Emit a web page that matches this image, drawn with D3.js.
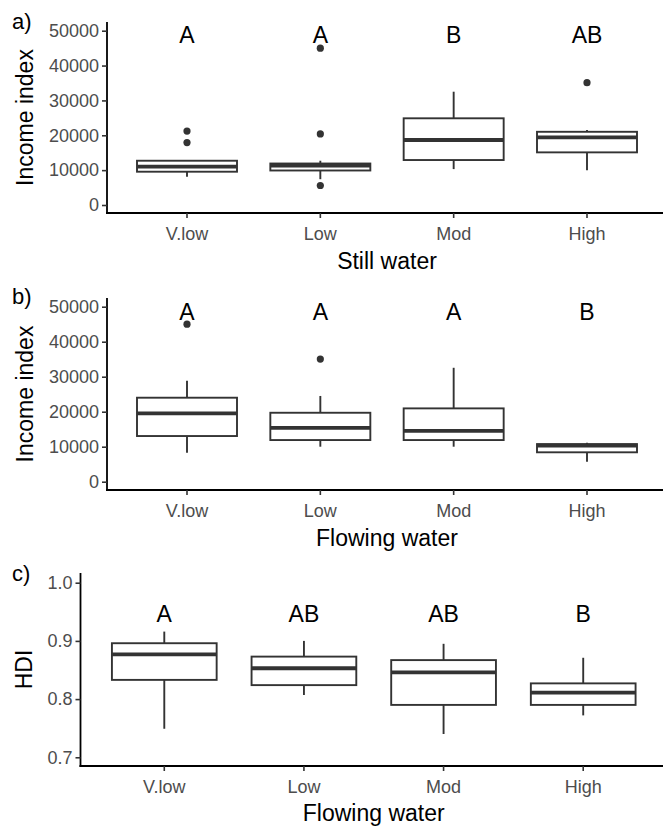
<!DOCTYPE html>
<html lang="en">
  <head>
    <meta charset="utf-8"/>
    <script src="https://d3js.org/d3.v7.min.js"></script>
    <title>Income index and HDI by water</title>
    <style>
      body { margin: 0; background: #fff; }
      text { font-family: "Liberation Sans", Arial, sans-serif; }
    </style>
  </head>
  <body>
    <svg id="svg_main"></svg>
    <script>
      const width = 663;
      const height = 826;

      const categories = ["V.low", "Low", "Mod", "High"];

      // [lower whisker, q1, median, q3, upper whisker]
      const stillIncome = [
        [8100, 9550, 11000, 12700, 12700],
        [7400, 9900, 11300, 11900, 12700],
        [10300, 12900, 18650, 24870, 32500],
        [10000, 15100, 19400, 21000, 21500]
      ];
      const stillOutliers = [[21200, 17900], [45000, 20400, 5600], [], [35100]];
      const stillLetters = ["A", "A", "B", "AB"];

      const flowIncome = [
        [8300, 13050, 19500, 24000, 28850],
        [10000, 11900, 15400, 19700, 24500],
        [10000, 11900, 14500, 20950, 32550],
        [5700, 8400, 10300, 10750, 11150]
      ];
      const flowOutliers = [[45000], [35050], [], []];
      const flowLetters = ["A", "A", "A", "B"];

      const flowHdi = [
        [0.749, 0.833, 0.877, 0.896, 0.916],
        [0.807, 0.824, 0.853, 0.873, 0.900],
        [0.740, 0.790, 0.846, 0.867, 0.895],
        [0.772, 0.790, 0.811, 0.827, 0.871]
      ];
      const hdiOutliers = [[], [], [], []];
      const hdiLetters = ["A", "AB", "AB", "B"];

      const incomeTicks = [0, 10000, 20000, 30000, 40000, 50000];
      const hdiTicks = [0.7, 0.8, 0.9, 1.0];

      let svg = d3.select("#svg_main")
          .attr("width", width)
          .attr("height", height);

      const panels = [
        {tag: "a)", stats: stillIncome, out: stillOutliers, letters: stillLetters, letterY: 46500,
         xTitle: "Still water", yTitle: "Income index", ticks: incomeTicks, fmt: d3.format("d"),
         left: 107, top: 22, bottom: 213, domain: [-2295, 52496], tagY: 29, xTitleY: 269, yTitleX: 33},
        {tag: "b)", stats: flowIncome, out: flowOutliers, letters: flowLetters, letterY: 46200,
         xTitle: "Flowing water", yTitle: "Income index", ticks: incomeTicks, fmt: d3.format("d"),
         left: 107, top: 298, bottom: 490, domain: [-2370, 52490], tagY: 304, xTitleY: 546, yTitleX: 33},
        {tag: "c)", stats: flowHdi, out: hdiOutliers, letters: hdiLetters, letterY: 0.9325,
         xTitle: "Flowing water", yTitle: "HDI", ticks: hdiTicks, fmt: d3.format(".1f"),
         left: 80.5, top: 573, bottom: 766, domain: [0.685, 1.0167], tagY: 581, xTitleY: 821, yTitleX: 32}
      ];

      panels.forEach(drawPanel);

      function drawPanel(p) {
        let g = svg.append("g");

        let xScale = d3.scaleBand()
            .domain(categories)
            .range([p.left, 667])
            .paddingInner(0.25)
            .paddingOuter(0.225);

        let yScale = d3.scaleLinear()
            .domain(p.domain)
            .range([p.bottom, p.top]);

        // boxes
        categories.forEach(function(c, i) {
          let s = p.stats[i];
          let x0 = xScale(c), bw = xScale.bandwidth(), cx = x0 + bw / 2;

          g.append("line")
              .attr("x1", cx).attr("x2", cx)
              .attr("y1", yScale(s[4])).attr("y2", yScale(s[3]))
              .attr("stroke", "#333").attr("stroke-width", 1.9);
          g.append("line")
              .attr("x1", cx).attr("x2", cx)
              .attr("y1", yScale(s[1])).attr("y2", yScale(s[0]))
              .attr("stroke", "#333").attr("stroke-width", 1.9);
          g.append("rect")
              .attr("x", x0).attr("width", bw)
              .attr("y", yScale(s[3]))
              .attr("height", yScale(s[1]) - yScale(s[3]))
              .attr("fill", "#fff")
              .attr("stroke", "#333").attr("stroke-width", 1.9);
          g.append("line")
              .attr("x1", x0).attr("x2", x0 + bw)
              .attr("y1", yScale(s[2])).attr("y2", yScale(s[2]))
              .attr("stroke", "#333").attr("stroke-width", 3.8);

          g.selectAll(null)
              .data(p.out[i])
              .enter().append("circle")
              .attr("cx", cx)
              .attr("cy", function(d) { return yScale(d); })
              .attr("r", 3.6)
              .attr("fill", "#333");

          g.append("text")
              .attr("x", cx)
              .attr("y", yScale(p.letterY))
              .attr("text-anchor", "middle")
              .attr("font-size", "23px")
              .attr("fill", "#000")
              .text(p.letters[i]);
        });

        // axes
        let xAxis_g = g.append("g")
            .attr("transform", "translate(0," + p.bottom + ")")
            .call(d3.axisBottom(xScale).tickSize(5).tickPadding(9).tickSizeOuter(0));
        let yAxis_g = g.append("g")
            .attr("transform", "translate(" + p.left + ",0)")
            .call(d3.axisLeft(yScale).tickValues(p.ticks).tickFormat(p.fmt)
                  .tickSize(5).tickPadding(3).tickSizeOuter(0));

        [xAxis_g, yAxis_g].forEach(function(a) {
          a.select(".domain").attr("stroke", "#000").attr("stroke-width", 1.8);
          a.selectAll(".tick line").attr("stroke", "#333").attr("stroke-width", 1.6);
          a.selectAll(".tick text")
              .attr("font-family", "Liberation Sans, Arial, sans-serif")
              .attr("font-size", "18px")
              .attr("fill", "#4D4D4D");
        });
        // axis lines meet at the corner
        xAxis_g.select(".domain").attr("d", "M" + (p.left - 1) + ",0H667");
        yAxis_g.select(".domain").attr("d", "M0," + p.top + "V" + (p.bottom + 1));

        // titles
        g.append("text")
            .attr("x", (p.left + 667) / 2)
            .attr("y", p.xTitleY)
            .attr("text-anchor", "middle")
            .attr("font-size", "23px")
            .text(p.xTitle);

        g.append("text")
            .attr("transform", "translate(" + p.yTitleX + "," + (p.top + p.bottom) / 2 + ") rotate(-90)")
            .attr("text-anchor", "middle")
            .attr("font-size", "23px")
            .text(p.yTitle);

        g.append("text")
            .attr("x", 12)
            .attr("y", p.tagY)
            .attr("font-size", "22px")
            .text(p.tag);
      }
    </script>
  </body>
</html>
